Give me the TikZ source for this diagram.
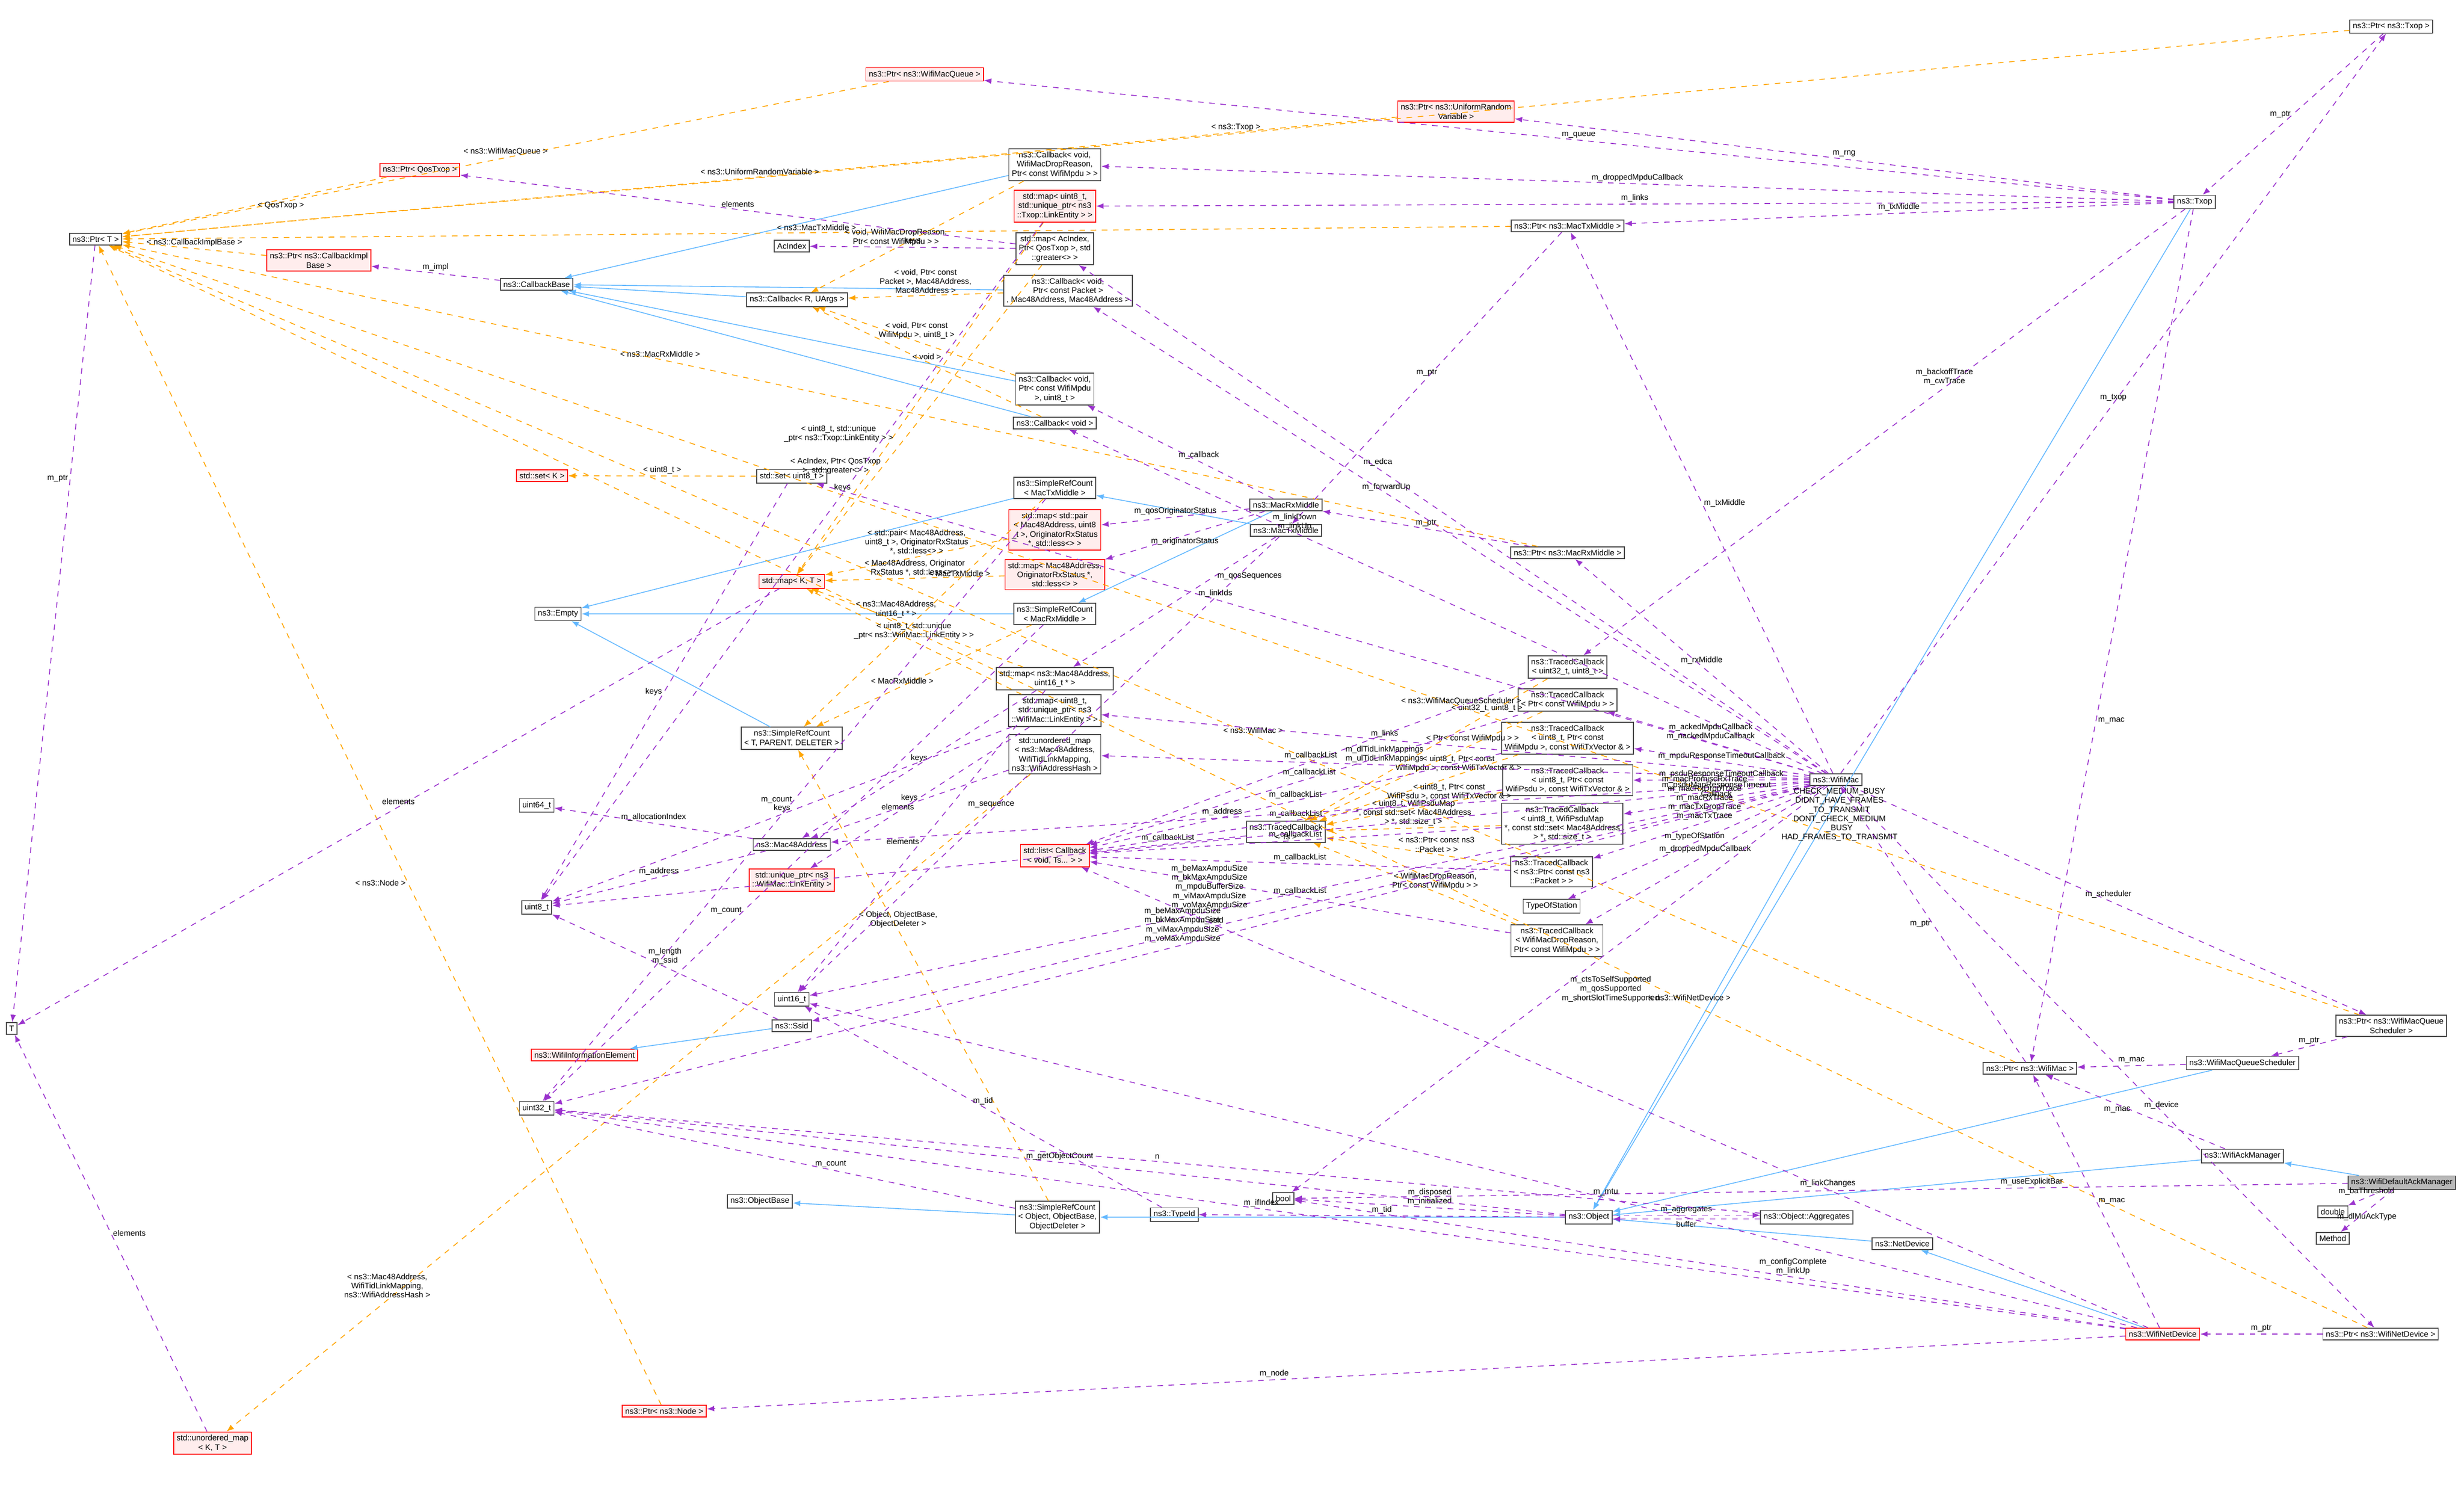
\documentclass[tikz,border=0pt]{standalone}
\usepackage{fontspec}
\setmainfont{Liberation Sans}
\usetikzlibrary{arrows.meta}
\definecolor{memc}{RGB}{154,50,205}
\definecolor{tplc}{RGB}{255,165,0}
\definecolor{inhc}{RGB}{99,184,255}
\tikzset{
  box/.style={draw=gray!60!black, fill=white, line width=0.5pt, inner sep=1.6pt, align=center, font=\fontsize{4.3}{4.9}\selectfont},
  redbox/.style={box, draw=red, fill=red!7},
  grey/.style={box, fill=gray!55},
  mem/.style={draw=memc, dashed, line width=0.45pt, -{Latex[length=4pt,width=3pt]}},
  tpl/.style={draw=tplc, dashed, line width=0.45pt, -{Latex[length=4pt,width=3pt]}},
  inh/.style={draw=inhc, line width=0.45pt, -{Latex[length=4pt,width=3pt]}},
  lbl/.style={font=\fontsize{4.3}{4.9}\selectfont, align=center, inner sep=1pt}
}
\begin{document}
\begin{tikzpicture}
\useasboundingbox (0,0) rectangle (46.37,-27.93);
% left column
\node[box] (ptrT) at (1.8,-4.5) {ns3::Ptr< T >};
\node[box] (T) at (0.22,-19.35) {T};
\node[redbox] (ptrQos) at (7.9,-3.2) {ns3::Ptr< QosTxop >};
\node[redbox] (ptrImpl) at (6.0,-4.9) {ns3::Ptr< ns3::CallbackImpl\\Base >};
\node[box] (cbBase) at (10.1,-5.35) {ns3::CallbackBase};
\node[redbox] (setK) at (10.2,-8.95) {std::set< K >};
\node[box] (empty) at (10.5,-11.55) {ns3::Empty};
\node[box] (u64) at (10.1,-15.15) {uint64\_t};
\node[box] (u8) at (10.1,-17.07) {uint8\_t};
\node[redbox] (infoEl) at (11.0,-19.85) {ns3::WifiInformationElement};
\node[box] (u32) at (10.1,-20.85) {uint32\_t};
\node[redbox] (ptrNode) at (12.5,-26.55) {ns3::Ptr< ns3::Node >};
\node[redbox] (umapKT) at (4.0,-27.15) {std::unordered\_map\\< K, T >};
% second column
\node[box] (acIdx) at (14.9,-4.63) {AcIndex};
\node[box] (cbRU) at (15.0,-5.64) {ns3::Callback< R, UArgs >};
\node[box] (setU8) at (14.9,-8.96) {std::set< uint8\_t >};
\node[redbox] (mapKT) at (14.9,-10.94) {std::map< K, T >};
\node[box] (srcTPD) at (14.9,-13.89) {ns3::SimpleRefCount\\< T, PARENT, DELETER >};
\node[box] (mac48) at (14.9,-15.89) {ns3::Mac48Address};
\node[redbox] (uptrLink) at (14.9,-16.56) {std::unique\_ptr< ns3\\::WifiMac::LinkEntity >};
\node[box] (u16) at (14.9,-18.8) {uint16\_t};
\node[box] (ssid) at (14.9,-19.3) {ns3::Ssid};
\node[box] (objBase) at (14.3,-22.6) {ns3::ObjectBase};
% third column
\node[redbox] (ptrQueue) at (17.4,-1.4) {ns3::Ptr< ns3::WifiMacQueue >};
\node[box] (cbDrop) at (19.85,-3.1) {ns3::Callback< void,\\WifiMacDropReason,\\Ptr< const WifiMpdu > >};
\node[redbox] (mapTxopLink) at (19.85,-3.88) {std::map< uint8\_t,\\std::unique\_ptr< ns3\\::Txop::LinkEntity > >};
\node[box] (mapAc) at (19.85,-4.68) {std::map< AcIndex,\\Ptr< QosTxop >, std\\::greater<> >};
\node[box] (cbPacket) at (20.1,-5.47) {ns3::Callback< void,\\Ptr< const Packet >\\, Mac48Address, Mac48Address >};
\node[box] (cbMpdu) at (19.85,-7.32) {ns3::Callback< void,\\Ptr< const WifiMpdu\\>, uint8\_t >};
\node[box] (cbVoid) at (19.85,-7.96) {ns3::Callback< void >};
\node[box] (srcTx) at (19.85,-9.18) {ns3::SimpleRefCount\\< MacTxMiddle >};
\node[redbox] (mapPair) at (19.85,-9.97) {std::map< std::pair\\< Mac48Address, uint8\\\_t >, OriginatorRxStatus\\*, std::less<> >};
\node[redbox] (mapOrig) at (19.85,-10.81) {std::map< Mac48Address,\\OriginatorRxStatus *,\\std::less<> >};
\node[box] (srcRx) at (19.85,-11.55) {ns3::SimpleRefCount\\< MacRxMiddle >};
\node[box] (mapMacU16) at (19.85,-12.77) {std::map< ns3::Mac48Address,\\uint16\_t * >};
\node[box] (mapWifiLink) at (19.85,-13.37) {std::map< uint8\_t,\\std::unique\_ptr< ns3\\::WifiMac::LinkEntity > >};
\node[box] (umap) at (19.85,-14.19) {std::unordered\_map\\< ns3::Mac48Address,\\WifiTidLinkMapping,\\ns3::WifiAddressHash >};
\node[redbox] (listCb) at (19.85,-16.1) {std::list< Callback\\< void, Ts... > >};
\node[box] (srcObj) at (19.9,-22.9) {ns3::SimpleRefCount\\< Object, ObjectBase,\\ObjectDeleter >};
\node[box] (typeId) at (22.1,-22.85) {ns3::TypeId};
\node[box] (bool) at (24.15,-22.55) {bool};
% middles
\node[box] (rxMid) at (24.2,-9.5) {ns3::MacRxMiddle};
\node[box] (txMid) at (24.2,-9.98) {ns3::MacTxMiddle};
\node[box] (trTs) at (24.2,-15.65) {ns3::TracedCallback\\< Ts >};
\node[redbox] (ptrUrv) at (27.4,-2.1) {ns3::Ptr< ns3::UniformRandom\\Variable >};
\node[box] (ptrTxMid) at (29.5,-4.25) {ns3::Ptr< ns3::MacTxMiddle >};
\node[box] (ptrRxMid) at (29.5,-10.4) {ns3::Ptr< ns3::MacRxMiddle >};
% traced callbacks
\node[box] (trU32) at (29.5,-12.55) {ns3::TracedCallback\\< uint32\_t, uint8\_t >};
\node[box] (trMpdu) at (29.5,-13.17) {ns3::TracedCallback\\< Ptr< const WifiMpdu > >};
\node[box] (trMpduTx) at (29.5,-13.89) {ns3::TracedCallback\\< uint8\_t, Ptr< const\\WifiMpdu >, const WifiTxVector \& >};
\node[box] (trPsdu) at (29.5,-14.68) {ns3::TracedCallback\\< uint8\_t, Ptr< const\\WifiPsdu >, const WifiTxVector \& >};
\node[box] (trPsduMap) at (29.4,-15.5) {ns3::TracedCallback\\< uint8\_t, WifiPsduMap\\*, const std::set< Mac48Address\\> *, std::size\_t >};
\node[box] (trPacket) at (29.2,-16.4) {ns3::TracedCallback\\< ns3::Ptr< const ns3\\::Packet > >};
\node[box] (tos) at (29.2,-17.05) {TypeOfStation};
\node[box] (trDrop) at (29.3,-17.7) {ns3::TracedCallback\\< WifiMacDropReason,\\Ptr< const WifiMpdu > >};
% right part
\node[box] (wifiMac) at (34.55,-14.67) {ns3::WifiMac};
\node[box] (object) at (29.9,-22.9) {ns3::Object};
\node[box] (aggr) at (34.0,-22.9) {ns3::Object::Aggregates};
\node[box] (netDev) at (35.8,-23.4) {ns3::NetDevice};
\node[redbox] (wifiNetDev) at (40.7,-25.1) {ns3::WifiNetDevice};
\node[box] (ptrNetDev) at (44.8,-25.1) {ns3::Ptr< ns3::WifiNetDevice >};
\node[box] (ptrTxop) at (45.0,-0.5) {ns3::Ptr< ns3::Txop >};
\node[box] (txop) at (41.3,-3.8) {ns3::Txop};
\node[box] (ptrSched) at (45.0,-19.3) {ns3::Ptr< ns3::WifiMacQueue\\Scheduler >};
\node[box] (sched) at (42.2,-20.0) {ns3::WifiMacQueueScheduler};
\node[box] (ptrMac) at (38.2,-20.1) {ns3::Ptr< ns3::WifiMac >};
\node[box] (ackMgr) at (42.2,-21.75) {ns3::WifiAckManager};
\node[grey] (defAck) at (45.2,-22.25) {ns3::WifiDefaultAckManager};
\node[box] (double) at (43.9,-22.8) {double};
\node[box] (method) at (43.9,-23.3) {Method};

% inheritance
\draw[inh] (cbDrop) -- (cbBase);
\draw[inh] (cbRU) -- (cbBase);
\draw[inh] (cbPacket) -- (cbBase);
\draw[inh] (cbMpdu) -- (cbBase);
\draw[inh] (cbVoid) -- (cbBase);
\draw[inh] (srcTx) -- (empty);
\draw[inh] (srcRx) -- (empty);
\draw[inh] (srcTPD) -- (empty);
\draw[inh] (txMid) -- (srcTx);
\draw[inh] (rxMid) -- (srcRx);
\draw[inh] (srcObj) -- (objBase);
\draw[inh] (ssid) -- (infoEl);
\draw[inh] (object) -- (srcObj);
\draw[inh] (txop) -- (object);
\draw[inh] (wifiMac) -- (object);
\draw[inh] (sched) -- (object);
\draw[inh] (ackMgr) -- (object);
\draw[inh] (netDev) -- (object);
\draw[inh] (wifiNetDev) -- (netDev);
\draw[inh] (defAck) -- (ackMgr);

% template instances
\draw[tpl] (ptrTxop) -- node[lbl,pos=0.5,above]{< ns3::Txop >} (ptrT);
\draw[tpl] (ptrSched) -- node[lbl,pos=0.4,above]{< ns3::WifiMacQueueScheduler >} (ptrT);
\draw[tpl] (ptrQueue) -- node[lbl,above]{< ns3::WifiMacQueue >} (ptrT);
\draw[tpl] (ptrUrv) -- node[lbl,above]{< ns3::UniformRandomVariable >} (ptrT);
\draw[tpl] (ptrTxMid) -- node[lbl,pos=0.5,above]{< ns3::MacTxMiddle >} (ptrT);
\draw[tpl] (ptrQos) -- node[lbl,below,pos=0.4]{< QosTxop >} (ptrT);
\draw[tpl] (ptrImpl) -- node[lbl,above]{< ns3::CallbackImplBase >} (ptrT);
\draw[tpl] (ptrRxMid) -- node[lbl,pos=0.62,above]{< ns3::MacRxMiddle >} (ptrT);
\draw[tpl] (ptrMac) -- node[lbl,pos=0.4,above]{< ns3::WifiMac >} (ptrT);
\draw[tpl] (ptrNode) -- node[lbl,pos=0.45,left]{< ns3::Node >} (ptrT);
\draw[tpl] (ptrNetDev) -- node[lbl,pos=0.3,above]{< ns3::WifiNetDevice >} (ptrT);
\draw[tpl] (cbDrop) -- node[lbl,pos=0.6,above]{< void, WifiMacDropReason,\\Ptr< const WifiMpdu > >} (cbRU);
\draw[tpl] (cbPacket) -- node[lbl,above]{< void, Ptr< const\\Packet >, Mac48Address,\\Mac48Address >} (cbRU);
\draw[tpl] (cbMpdu) -- node[lbl,pos=0.5,above]{< void, Ptr< const\\WifiMpdu >, uint8\_t >} (cbRU);
\draw[tpl] (cbVoid) -- node[lbl,pos=0.5,above]{< void >} (cbRU);
\draw[tpl] (setU8) -- node[lbl,above]{< uint8\_t >} (setK);
\draw[tpl] (mapTxopLink) -- node[lbl,pos=0.6,left]{< uint8\_t, std::unique\\\_ptr< ns3::Txop::LinkEntity > >} (mapKT);
\draw[tpl] (mapAc) -- node[lbl,pos=0.65,left]{< AcIndex, Ptr< QosTxop\\>, std::greater<> >} (mapKT);
\draw[tpl] (mapPair) -- node[lbl,above]{< std::pair< Mac48Address,\\uint8\_t >, OriginatorRxStatus\\*, std::less<> >} (mapKT);
\draw[tpl] (mapOrig) -- node[lbl,above]{< Mac48Address, Originator\\RxStatus *, std::less<> >} (mapKT);
\draw[tpl] (mapMacU16) -- node[lbl,above,pos=0.6]{< ns3::Mac48Address,\\uint16\_t * >} (mapKT);
\draw[tpl] (mapWifiLink) -- node[lbl,pos=0.5,above]{< uint8\_t, std::unique\\\_ptr< ns3::WifiMac::LinkEntity > >} (mapKT);
\draw[tpl] (srcTx) -- node[lbl,pos=0.35,above]{< MacTxMiddle >} (srcTPD);
\draw[tpl] (srcRx) -- node[lbl,pos=0.6,above]{< MacRxMiddle >} (srcTPD);
\draw[tpl] (srcObj) -- node[lbl,pos=0.6,above]{< Object, ObjectBase,\\ObjectDeleter >} (srcTPD);
\draw[tpl] (umap) -- node[lbl,pos=0.8,above]{< ns3::Mac48Address,\\WifiTidLinkMapping,\\ns3::WifiAddressHash >} (umapKT);
\draw[tpl] (trU32) -- node[lbl,pos=0.25,above]{< uint32\_t, uint8\_t >} (trTs);
\draw[tpl] (trMpdu) -- node[lbl,pos=0.3,above]{< Ptr< const WifiMpdu > >} (trTs);
\draw[tpl] (trMpduTx) -- node[lbl,pos=0.3,above]{< uint8\_t, Ptr< const\\WifiMpdu >, const WifiTxVector \& >} (trTs);
\draw[tpl] (trPsdu) -- node[lbl,pos=0.3,above]{< uint8\_t, Ptr< const\\WifiPsdu >, const WifiTxVector \& >} (trTs);
\draw[tpl] (trPsduMap) -- node[lbl,above]{< uint8\_t, WifiPsduMap\\*, const std::set< Mac48Address\\> *, std::size\_t >} (trTs);
\draw[tpl] (trPacket) -- node[lbl,pos=0.4,above]{< ns3::Ptr< const ns3\\::Packet > >} (trTs);
\draw[tpl] (trDrop) -- node[lbl,pos=0.4,above]{< WifiMacDropReason,\\Ptr< const WifiMpdu > >} (trTs);

% members
\draw[mem] (ptrT) -- node[lbl,left,pos=0.3]{m\_ptr} (T);
\draw[mem] (umapKT) -- node[lbl,right,pos=0.5]{elements} (T);
\draw[mem] (mapKT) -- node[lbl,pos=0.5,above]{elements} (T);
\draw[mem] (cbBase) -- node[lbl,above]{m\_impl} (ptrImpl);
\draw[mem] (mapAc) -- node[lbl,pos=0.5,above]{elements} (ptrQos);
\draw[mem] (mapAc) -- node[lbl,pos=0.5,above]{keys} (acIdx);
\draw[mem] (mapTxopLink) -- node[lbl,pos=0.4,above]{keys} (u8);
\draw[mem] (setU8) -- node[lbl,left,pos=0.5]{keys} (u8);
\draw[mem] (srcTx) -- node[lbl,pos=0.5,left]{m\_count} (u32);
\draw[mem] (srcRx) -- node[lbl,pos=0.6,left]{m\_count} (u32);
\draw[mem] (srcObj) -- node[lbl,pos=0.4,above]{m\_count} (u32);
\draw[mem] (mac48) -- node[lbl,above]{m\_allocationIndex} (u64);
\draw[mem] (mac48) -- node[lbl,above]{m\_address} (u8);
\draw[mem] (ssid) -- node[lbl,above]{m\_length\\m\_ssid} (u8);
\draw[mem] (mapMacU16) -- node[lbl,pos=0.5,above]{keys} (mac48);
\draw[mem] (mapMacU16) -- node[lbl,pos=0.5,left]{elements} (u16);
\draw[mem] (mapWifiLink) -- node[lbl,pos=0.5,above]{keys} (u8);
\draw[mem] (mapWifiLink) -- node[lbl,pos=0.6,above]{elements} (uptrLink);
\draw[mem] (umap) -- node[lbl,pos=0.5,above]{keys} (mac48);
\draw[mem] (rxMid) -- node[lbl,above]{m\_qosOriginatorStatus} (mapPair);
\draw[mem] (rxMid) -- node[lbl,below]{m\_originatorStatus} (mapOrig);
\draw[mem] (rxMid) -- node[lbl,above,pos=0.4]{m\_callback} (cbMpdu);
\draw[mem] (txMid) -- node[lbl,right,pos=0.3]{m\_qosSequences} (mapMacU16);
\draw[mem] (txMid) -- node[lbl,pos=0.6,above]{m\_sequence} (u16);
\draw[mem] (ptrRxMid) -- node[lbl,above]{m\_ptr} (rxMid);
\draw[mem] (ptrTxMid) -- node[lbl,above,pos=0.5]{m\_ptr} (txMid);
\draw[mem] (trTs) -- node[lbl,above]{m\_callbackList} (listCb);
\foreach \tc in {trU32, trMpdu, trMpduTx, trPsdu, trPsduMap, trPacket, trDrop}
  \draw[mem] (\tc) -- node[lbl,pos=0.5,above]{m\_callbackList} (listCb);
\draw[mem] (typeId) -- node[lbl,above]{m\_tid} (u16);
% Txop members
\draw[mem] (txop) -- node[lbl,above,pos=0.5]{m\_queue} (ptrQueue);
\draw[mem] (txop) -- node[lbl,above]{m\_rng} (ptrUrv);
\draw[mem] (txop) -- node[lbl,above]{m\_droppedMpduCallback} (cbDrop);
\draw[mem] (txop) -- node[lbl,above]{m\_links} (mapTxopLink);
\draw[mem] (txop) -- node[lbl,above]{m\_txMiddle} (ptrTxMid);
\draw[mem] (txop) -- node[lbl,above,pos=0.4]{m\_backoffTrace\\m\_cwTrace} (trU32);
\draw[mem] (txop) -- node[lbl,right,pos=0.6]{m\_mac} (ptrMac);
\draw[mem] (ptrTxop) -- node[lbl,left]{m\_ptr} (txop);
% WifiMac members
\draw[mem] (wifiMac) -- node[lbl,above]{m\_txop} (ptrTxop);
\draw[mem] (wifiMac) -- node[lbl,above,pos=0.6]{m\_edca} (mapAc);
\draw[mem] (wifiMac) -- node[lbl,above,pos=0.6]{m\_forwardUp} (cbPacket);
\draw[mem] (wifiMac) -- node[lbl,above,pos=0.7]{m\_linkDown\\m\_linkUp} (cbVoid);
\draw[mem] (wifiMac) -- node[lbl,above,pos=0.6]{m\_linkIds} (setU8);
\draw[mem] (wifiMac) -- node[lbl,right,pos=0.5]{m\_txMiddle} (ptrTxMid);
\draw[mem] (wifiMac) -- node[lbl,above]{m\_rxMiddle} (ptrRxMid);
\draw[mem] (wifiMac) -- node[lbl,above,pos=0.6]{m\_links} (mapWifiLink);
\draw[mem] (wifiMac) -- node[lbl,above,pos=0.6]{m\_dlTidLinkMappings\\m\_ulTidLinkMappings} (umap);
\draw[mem] (wifiMac) -- node[lbl,above,pos=0.6]{m\_address} (mac48);
\draw[mem] (wifiMac) -- node[lbl,above]{m\_ackedMpduCallback\\m\_nackedMpduCallback} (trMpdu);
\draw[mem] (wifiMac) -- node[lbl,above]{m\_mpduResponseTimeoutCallback} (trMpduTx);
\draw[mem] (wifiMac) -- node[lbl,above]{m\_psduResponseTimeoutCallback} (trPsdu);
\draw[mem] (wifiMac) -- node[lbl,above]{m\_psduMapResponseTimeout\\Callback} (trPsduMap);
\draw[mem] (wifiMac) -- node[lbl,above]{m\_macPromiscRxTrace\\m\_macRxDropTrace\\m\_macRxTrace\\m\_macTxDropTrace\\m\_macTxTrace} (trPacket);
\draw[mem] (wifiMac) -- node[lbl,above]{m\_typeOfStation} (tos);
\draw[mem] (wifiMac) -- node[lbl,above]{m\_droppedMpduCallback} (trDrop);
\draw[mem] (wifiMac) -- node[lbl,above,pos=0.6]{m\_beMaxAmpduSize\\m\_bkMaxAmpduSize\\m\_mpduBufferSize\\m\_viMaxAmpduSize\\m\_voMaxAmpduSize} (u16);
\draw[mem] (wifiMac) -- node[lbl,above,pos=0.6]{m\_ssid} (ssid);
\draw[mem] (wifiMac) -- node[lbl,above,pos=0.5]{m\_beMaxAmpduSize\\m\_bkMaxAmpduSize\\m\_viMaxAmpduSize\\m\_voMaxAmpduSize} (u32);
\draw[mem] (wifiMac) -- node[lbl,right,pos=0.5]{m\_ctsToSelfSupported\\m\_qosSupported\\m\_shortSlotTimeSupported} (bool);
\draw[mem] (wifiMac) -- node[lbl,above,pos=0.5]{m\_scheduler} (ptrSched);
\draw[mem] (wifiMac) -- node[lbl,above,pos=0.6]{m\_device} (ptrNetDev);
\draw[mem] (wifiMac) -- node[lbl,below right,pos=0.03,xshift=4pt]{CHECK\_MEDIUM\_BUSY\\DIDNT\_HAVE\_FRAMES\\\_TO\_TRANSMIT\\DONT\_CHECK\_MEDIUM\\\_BUSY\\HAD\_FRAMES\_TO\_TRANSMIT} (u8);
\draw[mem] (ptrMac) -- node[lbl,left,pos=0.5]{m\_ptr} (wifiMac);
\draw[mem] (ptrSched) -- node[lbl,above]{m\_ptr} (sched);
\draw[mem] (sched) -- node[lbl,above]{m\_mac} (ptrMac);
\draw[mem] (ackMgr) -- node[lbl,below,pos=0.6]{m\_mac} (ptrMac);
\draw[mem] (defAck) -- node[lbl,above]{m\_baThreshold} (double);
\draw[mem] (defAck) -- node[lbl,below]{m\_dlMuAckType} (method);
\draw[mem] (defAck) -- node[lbl,above,pos=0.3]{m\_useExplicitBar} (bool);
% Object members
\draw[mem] (object) -- node[lbl,above]{m\_disposed\\m\_initialized} (bool);
\draw[mem] (object) -- node[lbl,above]{m\_tid} (typeId);
\draw[mem] ([yshift=1pt]object.east) -- node[lbl,above]{m\_aggregates} ([yshift=1pt]aggr.west);
\draw[mem] ([yshift=-1pt]aggr.west) -- node[lbl,below]{buffer} ([yshift=-1pt]object.east);
\draw[mem] (object) -- node[lbl,above,pos=0.5]{m\_getObjectCount} (u32);
\draw[mem] (aggr) -- node[lbl,above,pos=0.5]{n} (u32);
% WifiNetDevice members
\draw[mem] (wifiNetDev) -- node[lbl,right]{m\_mac} (ptrMac);
\draw[mem] (wifiNetDev) -- node[lbl,above,pos=0.6]{m\_node} (ptrNode);
\draw[mem] (wifiNetDev) -- node[lbl,above,pos=0.55]{m\_ifIndex} (u32);
\draw[mem] (wifiNetDev) -- node[lbl,above,pos=0.4]{m\_configComplete\\m\_linkUp} (bool);
\draw[mem] (wifiNetDev) -- node[lbl,above,pos=0.4]{m\_mtu} (u16);
\draw[mem] (wifiNetDev) -- node[lbl,above,pos=0.3]{m\_linkChanges} (listCb);
\draw[mem] (ptrNetDev) -- node[lbl,above]{m\_ptr} (wifiNetDev);
\end{tikzpicture}
\end{document}
